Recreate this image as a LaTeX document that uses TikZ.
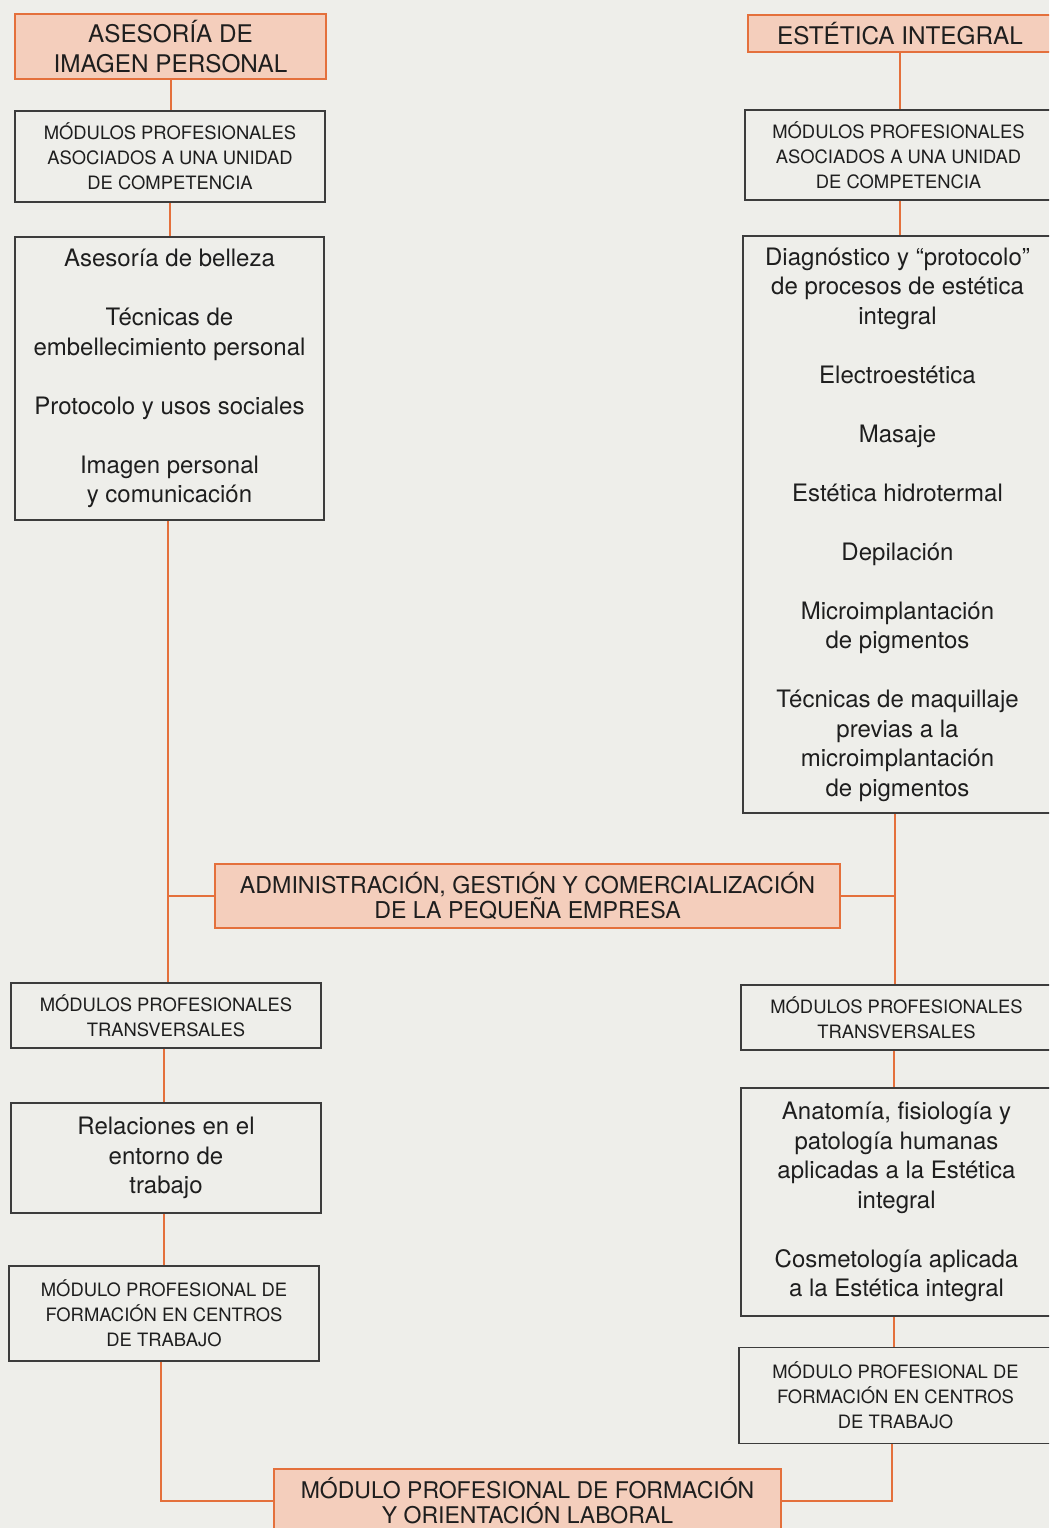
\documentclass[tikz,border=0pt]{standalone}
\usepackage{fontspec}
\setmainfont{TeX Gyre Heros}
\definecolor{bgcol}{RGB}{238,238,234}
\definecolor{orng}{RGB}{228,112,60}
\definecolor{salmon}{RGB}{244,206,188}
\definecolor{ink}{RGB}{30,30,30}
\definecolor{frame}{RGB}{60,60,60}
\tikzset{
  obox/.style={draw=orng, line width=2.6pt, fill=salmon, text=ink, align=center, inner sep=0pt},
  gbox/.style={draw=frame, line width=1.6pt, text=ink, align=center, inner sep=0pt},
  conn/.style={draw=orng, line width=2pt},
  big/.style={font=\fontsize{24.3}{30}\selectfont},
  caps/.style={font=\fontsize{18.4}{25}\selectfont},
  body/.style={font=\fontsize{24}{29.5}\selectfont},
  adm/.style={font=\fontsize{23.2}{24}\selectfont},
}
\begin{document}
\begin{tikzpicture}[x=1pt,y=-1pt]
\useasboundingbox (0,0) rectangle (1049,1528);
\clip (0,0) rectangle (1049,1528);
\fill[bgcol] (0,0) rectangle (1049,1528);

% left column
\node[obox,big,minimum width=311pt,minimum height=65pt] (A1) at (170.5,46.5) {ASESORÍA DE\\IMAGEN PERSONAL};
\node[gbox,caps,minimum width=310pt,minimum height=91pt] (B1) at (170,156.5) {MÓDULOS PROFESIONALES\\ASOCIADOS A UNA UNIDAD\\DE COMPETENCIA};
\node[gbox,body,minimum width=309pt,minimum height=283pt] (C1) at (169.5,378.5) {Asesoría de belleza\\[29.5pt]Técnicas de\\embellecimiento personal\\[29.5pt]Protocolo y usos sociales\\[29.5pt]Imagen personal\\y comunicación};
\node[obox,adm,minimum width=625pt,minimum height=64pt] (AD) at (527.5,896) {ADMINISTRACIÓN, GESTIÓN Y COMERCIALIZACIÓN\\DE LA PEQUEÑA EMPRESA};
\node[gbox,caps,minimum width=310pt,minimum height=65pt] (D1) at (166,1015.5) {MÓDULOS PROFESIONALES\\TRANSVERSALES};
\node[gbox,body,minimum width=310pt,minimum height=110pt] (E1) at (166,1158) {Relaciones en el\\entorno de\\trabajo};
\node[gbox,caps,minimum width=310pt,minimum height=95pt] (F1) at (164,1313.5) {MÓDULO PROFESIONAL DE\\FORMACIÓN EN CENTROS\\DE TRABAJO};
\node[obox,font=\fontsize{23}{25}\selectfont,minimum width=507pt,minimum height=64pt] (G) at (527.5,1501) {MÓDULO PROFESIONAL DE FORMACIÓN\\Y ORIENTACIÓN LABORAL};

% right column
\node[obox,big,minimum width=304pt,minimum height=37pt] (A2) at (900,33.5) {ESTÉTICA INTEGRAL};
\node[gbox,caps,minimum width=307pt,minimum height=90pt] (B2) at (898.5,155) {MÓDULOS PROFESIONALES\\ASOCIADOS A UNA UNIDAD\\DE COMPETENCIA};
\node[gbox,body,minimum width=309pt,minimum height=577pt] (C2) at (897.5,524.5) {Diagnóstico y “protocolo”\\de procesos de estética\\integral\\[29.5pt]Electroestética\\[29.5pt]Masaje\\[29.5pt]Estética hidrotermal\\[29.5pt]Depilación\\[29.5pt]Microimplantación\\de pigmentos\\[29.5pt]Técnicas de maquillaje\\previas a la\\microimplantación\\de pigmentos};
\node[gbox,caps,minimum width=311pt,minimum height=65pt] (D2) at (896.5,1017.5) {MÓDULOS PROFESIONALES\\TRANSVERSALES};
\node[gbox,body,minimum width=311pt,minimum height=228pt] (E2) at (896.5,1202) {Anatomía, fisiología y\\patología humanas\\aplicadas a la Estética\\integral\\[29.5pt]Cosmetología aplicada\\a la Estética integral};
\node[gbox,caps,minimum width=313pt,minimum height=96pt] (F2) at (895.5,1395.5) {MÓDULO PROFESIONAL DE\\FORMACIÓN EN CENTROS\\DE TRABAJO};

\coordinate (LT) at ([xshift=-2pt]C1.south);
\coordinate (RT) at ([xshift=-3pt]C2.south);

% connectors left
\draw[conn] (A1.south) -- (A1.south |- B1.north);
\draw[conn] (B1.south) -- (B1.south |- C1.north);
\draw[conn] (LT) -- (LT |- D1.north);
\draw[conn] (AD.west) -- (AD.west -| LT);
\draw[conn] ([xshift=-2pt]D1.south) -- ([xshift=-2pt]D1.south |- E1.north);
\draw[conn] ([xshift=-2pt]E1.south) -- ([xshift=-2pt]E1.south |- F1.north);
\draw[conn] ([xshift=-3pt]F1.south) |- (G.west);

% connectors right
\draw[conn] (A2.south) -- (A2.south |- B2.north);
\draw[conn] ([xshift=1.5pt]B2.south) -- ([xshift=1.5pt]B2.south |- C2.north);
\draw[conn] (RT) -- (RT |- D2.north);
\draw[conn] (AD.east) -- (AD.east -| RT);
\draw[conn] ([xshift=-3pt]D2.south) -- ([xshift=-3pt]D2.south |- E2.north);
\draw[conn] ([xshift=-3pt]E2.south) -- ([xshift=-3pt]E2.south |- F2.north);
\draw[conn] ([xshift=-4pt]F2.south) |- (G.east);
\end{tikzpicture}
\end{document}
